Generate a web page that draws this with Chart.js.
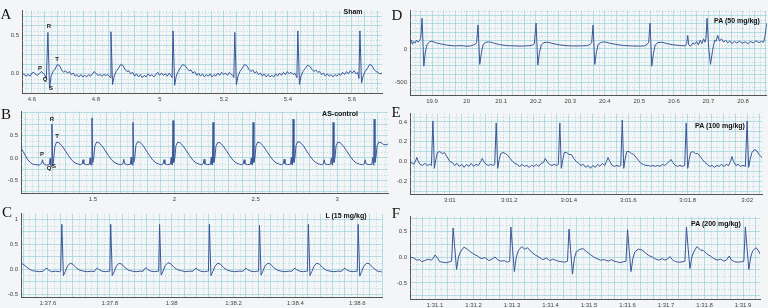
<!DOCTYPE html>
<html>
<head>
<meta charset="utf-8">
<script src="https://cdn.jsdelivr.net/npm/chart.js@4.4.1/dist/chart.umd.min.js"></script>
<style>
html,body{margin:0;padding:0;background:#f4f5f6;}
#page{position:relative;width:768px;height:308px;overflow:hidden;}
#page canvas{position:absolute;}
.letter{position:absolute;font-family:"Liberation Serif","DejaVu Serif",serif;font-size:15px;line-height:15px;color:#111;transform:translate(-50%,-50%);}
.tag{position:absolute;font-family:"Liberation Sans",Arial,sans-serif;font-weight:bold;font-size:7px;line-height:7px;color:#111;white-space:nowrap;transform:translate(-50%,-50%);}
.wave{position:absolute;font-family:"Liberation Sans",Arial,sans-serif;font-weight:bold;font-size:6px;line-height:6px;color:#222;transform:translate(-50%,-50%);}
</style>
</head>
<body>
<div id="page"></div>
<script>

// ---- traces: [time (s), amplitude] ----

const shamTrace = [
[4.569,-0.02],[4.575,0.0],[4.581,-0.03],[4.588,-0.01],[4.594,-0.03],[4.600,0.01],[4.606,0.02],[4.612,-0.01],[4.618,-0.02],[4.624,0.01],[4.630,0.03],[4.636,0.0],[4.641,-0.02],[4.645,-0.06],[4.650,0.54],[4.655,-0.19],[4.660,-0.03],[4.666,0.03],[4.672,0.06],[4.679,0.12],[4.686,0.11],[4.693,0.05],[4.699,0.02],[4.705,0.04],[4.711,0.01],[4.717,0.03],[4.723,-0.01],[4.729,0.01],[4.735,-0.03],[4.741,-0.01],[4.747,-0.04],[4.753,-0.01],[4.759,-0.04],[4.765,-0.02],[4.771,-0.04],[4.777,-0.01],[4.783,-0.03],[4.789,0.0],[4.795,0.03],[4.801,0.0],[4.807,-0.02],[4.813,-0.01],[4.819,-0.03],[4.825,-0.01],[4.831,-0.02],[4.837,-0.01],[4.842,-0.03],[4.845,-0.05],
[4.847,0.55],[4.852,-0.14],[4.857,-0.03],[4.863,0.03],[4.870,0.07],[4.877,0.12],[4.884,0.11],[4.891,0.06],[4.897,0.03],[4.903,0.04],[4.909,0.0],[4.915,0.02],[4.921,-0.03],[4.927,0.0],[4.933,-0.04],[4.939,-0.01],[4.945,-0.05],[4.951,-0.02],[4.957,-0.04],[4.963,0.0],[4.969,-0.03],[4.975,-0.01],[4.981,-0.04],[4.987,-0.01],[4.993,0.02],[4.999,-0.02],[5.005,0.01],[5.011,-0.02],[5.017,0.0],[5.023,-0.03],[5.029,0.01],[5.034,-0.02],[5.038,-0.05],
[5.041,0.56],[5.046,-0.15],[5.051,-0.03],[5.057,0.03],[5.064,0.08],[5.071,0.12],[5.078,0.11],[5.085,0.07],[5.091,0.04],[5.097,0.05],[5.103,0.01],[5.109,0.03],[5.115,-0.02],[5.121,0.01],[5.127,-0.03],[5.133,0.0],[5.139,-0.04],[5.145,-0.01],[5.151,-0.03],[5.157,0.0],[5.163,-0.04],[5.169,-0.01],[5.175,-0.03],[5.181,0.01],[5.187,-0.02],[5.193,0.02],[5.199,-0.01],[5.205,0.01],[5.211,-0.02],[5.217,0.02],[5.223,-0.01],[5.228,-0.02],[5.231,-0.05],
[5.234,0.54],[5.239,-0.14],[5.244,-0.03],[5.250,0.03],[5.257,0.07],[5.264,0.12],[5.271,0.11],[5.278,0.06],[5.284,0.03],[5.290,0.05],[5.296,0.01],[5.302,0.03],[5.308,-0.01],[5.314,0.01],[5.320,-0.03],[5.326,0.0],[5.332,-0.04],[5.338,-0.01],[5.344,-0.04],[5.350,-0.02],[5.356,-0.04],[5.362,0.0],[5.368,-0.03],[5.374,0.01],[5.380,-0.02],[5.386,0.02],[5.392,-0.01],[5.398,0.03],[5.404,0.0],[5.410,0.02],[5.416,-0.01],[5.421,0.01],[5.425,-0.02],[5.428,-0.05],
[5.431,0.56],[5.436,-0.14],[5.441,-0.03],[5.447,0.03],[5.454,0.07],[5.461,0.11],[5.468,0.10],[5.475,0.06],[5.481,0.03],[5.487,0.05],[5.493,0.02],[5.499,0.03],[5.505,-0.01],[5.511,0.01],[5.517,-0.03],[5.523,0.0],[5.529,-0.03],[5.535,-0.01],[5.541,-0.04],[5.547,-0.01],[5.553,-0.03],[5.559,0.0],[5.565,-0.02],[5.571,0.02],[5.577,-0.01],[5.583,0.03],[5.589,0.0],[5.595,0.04],[5.601,0.01],[5.607,0.04],[5.613,0.0],[5.618,0.02],[5.622,-0.06],
[5.625,0.56],[5.630,-0.12],[5.635,-0.03],[5.641,0.03],[5.648,0.07],[5.655,0.12],[5.662,0.11],[5.669,0.06],[5.675,0.03],[5.681,0.02],[5.687,0.0],[5.694,0.01]
];

const pa50Trace = [
[19.836,80],[19.840,130],[19.843,70],[19.847,110],[19.851,90],[19.855,130],[19.859,100],[19.863,120],[19.867,160],
[19.871,457],[19.876,-257],[19.880,-60],[19.885,60],[19.893,110],[19.900,115],[19.912,90],[19.925,75],[19.945,55],[19.965,45],[19.985,50],[20.000,40],[20.012,45],[20.020,60],[20.026,75],[20.029,100],
[20.033,357],[20.038,-230],[20.043,-50],[20.048,70],[20.056,100],[20.066,105],[20.080,85],[20.095,65],[20.115,50],[20.140,45],[20.160,42],[20.180,48],[20.190,55],[20.196,80],
[20.201,385],[20.206,-240],[20.211,-50],[20.216,60],[20.224,95],[20.235,100],[20.250,80],[20.270,60],[20.290,48],[20.310,44],[20.330,45],[20.350,50],[20.358,70],[20.362,95],
[20.366,357],[20.371,-230],[20.376,-40],[20.381,70],[20.390,100],[20.400,105],[20.415,85],[20.435,65],[20.455,50],[20.480,45],[20.500,42],[20.515,45],[20.523,70],[20.527,100],
[20.531,385],[20.536,-257],[20.541,-60],[20.546,60],[20.554,95],[20.565,100],[20.580,80],[20.600,60],[20.620,50],[20.632,45],[20.637,80],[20.640,200],[20.643,60],[20.648,40],[20.655,90],[20.660,70],[20.666,110],[20.671,60],[20.676,130],[20.681,80],[20.686,150],[20.690,100],[20.693,160],
[20.696,457],[20.701,0],[20.706,-230],[20.712,-20],[20.718,130],[20.722,110],[20.727,200],[20.732,120],[20.738,150],[20.744,100],[20.750,130],[20.756,90],[20.762,120],[20.768,80],[20.775,110],[20.782,90],[20.790,115],[20.798,85],[20.806,105],[20.814,80],[20.822,110],[20.830,90],[20.838,120],[20.846,95],[20.854,110],[20.860,100],[20.864,200],[20.869,385]
];

const asControlTrace = [
[1.058,0.22],[1.070,0.15],[1.085,0.05],[1.100,-0.04],[1.115,-0.10],[1.130,-0.14],[1.150,-0.15],[1.170,-0.16],[1.185,-0.12],[1.190,-0.04],[1.196,-0.13],[1.215,-0.16],[1.232,-0.15],[1.237,-0.01],[1.240,-0.15],[1.244,-0.19],
[1.248,0.75],[1.253,-0.17],[1.259,-0.02],[1.266,0.25],[1.276,0.35],[1.290,0.34],[1.310,0.27],[1.330,0.16],[1.350,0.05],[1.370,-0.05],[1.390,-0.11],[1.410,-0.14],[1.425,-0.15],[1.434,-0.13],[1.439,-0.04],[1.444,-0.13],[1.460,-0.15],[1.478,-0.14],[1.483,0.0],[1.487,-0.14],[1.490,-0.16],
[1.494,0.89],[1.499,-0.10],[1.505,0.0],[1.512,0.27],[1.522,0.35],[1.536,0.34],[1.556,0.27],[1.576,0.16],[1.596,0.05],[1.616,-0.05],[1.636,-0.11],[1.656,-0.14],[1.672,-0.15],[1.684,-0.13],[1.690,-0.03],[1.695,-0.13],[1.712,-0.15],[1.730,-0.14],[1.735,0.02],[1.739,-0.14],[1.742,-0.16],
[1.746,0.79],[1.751,-0.10],[1.757,0.0],[1.764,0.28],[1.774,0.36],[1.788,0.35],[1.808,0.28],[1.828,0.16],[1.848,0.05],[1.868,-0.05],[1.888,-0.11],[1.908,-0.14],[1.922,-0.15],[1.932,-0.13],[1.937,-0.04],[1.942,-0.13],[1.958,-0.15],[1.976,-0.14],[1.981,0.01],[1.985,-0.14],[1.988,-0.16],
[1.992,0.83],[1.997,-0.10],[2.003,0.0],[2.010,0.27],[2.020,0.35],[2.034,0.34],[2.054,0.27],[2.074,0.16],[2.094,0.05],[2.114,-0.05],[2.134,-0.11],[2.154,-0.14],[2.168,-0.15],[2.178,-0.13],[2.183,-0.03],[2.188,-0.13],[2.204,-0.15],[2.222,-0.14],[2.227,0.02],[2.231,-0.14],[2.234,-0.16],
[2.238,0.79],[2.243,-0.10],[2.249,0.0],[2.256,0.26],[2.266,0.34],[2.280,0.34],[2.300,0.27],[2.320,0.16],[2.340,0.05],[2.360,-0.05],[2.380,-0.11],[2.400,-0.14],[2.414,-0.15],[2.424,-0.13],[2.429,-0.04],[2.434,-0.13],[2.450,-0.15],[2.468,-0.14],[2.473,0.0],[2.477,-0.14],[2.480,-0.16],
[2.484,0.79],[2.489,-0.10],[2.495,0.0],[2.502,0.27],[2.512,0.35],[2.526,0.34],[2.546,0.27],[2.566,0.16],[2.586,0.05],[2.606,-0.05],[2.626,-0.11],[2.646,-0.14],[2.660,-0.15],[2.670,-0.13],[2.675,-0.03],[2.680,-0.13],[2.696,-0.15],[2.714,-0.14],[2.719,0.01],[2.723,-0.14],[2.726,-0.16],
[2.730,0.86],[2.735,-0.10],[2.741,0.0],[2.748,0.28],[2.758,0.36],[2.772,0.35],[2.792,0.28],[2.812,0.16],[2.832,0.05],[2.852,-0.05],[2.872,-0.11],[2.892,-0.14],[2.906,-0.15],[2.916,-0.13],[2.921,-0.04],[2.926,-0.13],[2.942,-0.15],[2.960,-0.14],[2.965,0.0],[2.969,-0.14],[2.972,-0.16],
[2.976,0.79],[2.981,-0.10],[2.987,0.0],[2.994,0.27],[3.004,0.35],[3.018,0.34],[3.038,0.27],[3.058,0.16],[3.078,0.05],[3.098,-0.05],[3.118,-0.11],[3.138,-0.14],[3.156,-0.15],[3.168,-0.13],[3.173,-0.04],[3.178,-0.13],[3.196,-0.15],[3.214,-0.14],[3.219,0.01],[3.223,-0.14],[3.225,-0.16],
[3.228,0.86],[3.233,-0.10],[3.239,0.02],[3.246,0.27],[3.256,0.35],[3.270,0.34],[3.285,0.30],[3.300,0.29],[3.313,0.31]
];

const pa100Trace = [
[180.866,-0.03],[180.872,-0.01],[180.878,-0.03],[180.884,0.0],[180.889,0.04],[180.894,0.0],[180.900,-0.03],[180.908,-0.04],[180.916,-0.02],[180.924,-0.04],[180.932,-0.03],[180.938,-0.04],
[180.943,0.41],[180.948,-0.07],[180.953,0.02],[180.958,0.09],[180.966,0.10],[180.974,0.08],[180.982,0.09],[180.990,0.05],[181.000,0.0],[181.008,-0.01],[181.016,-0.04],[181.024,-0.02],[181.032,-0.05],[181.040,-0.03],[181.048,-0.06],[181.056,-0.03],[181.064,-0.05],[181.072,-0.02],[181.080,-0.05],[181.088,-0.03],[181.096,-0.04],[181.104,0.0],[181.109,0.03],[181.114,0.0],[181.122,-0.03],[181.130,-0.04],[181.138,-0.03],[181.146,-0.04],[181.151,-0.03],
[181.156,0.39],[181.161,-0.07],[181.166,0.02],[181.171,0.08],[181.179,0.09],[181.187,0.08],[181.195,0.06],[181.203,0.03],[181.211,0.0],[181.219,-0.02],[181.227,-0.03],[181.235,-0.05],[181.243,-0.03],[181.251,-0.05],[181.259,-0.04],[181.267,-0.06],[181.275,-0.04],[181.283,-0.05],[181.291,-0.03],[181.299,-0.05],[181.307,-0.02],[181.315,-0.01],[181.321,0.03],[181.327,0.0],[181.335,-0.03],[181.343,-0.04],[181.351,-0.03],[181.360,-0.04],[181.365,-0.03],
[181.370,0.39],[181.375,-0.07],[181.380,0.02],[181.385,0.09],[181.393,0.09],[181.401,0.07],[181.409,0.07],[181.417,0.03],[181.425,0.0],[181.433,-0.02],[181.441,-0.04],[181.449,-0.03],[181.457,-0.06],[181.465,-0.04],[181.473,-0.07],[181.481,-0.04],[181.489,-0.06],[181.497,-0.03],[181.505,-0.05],[181.513,-0.02],[181.521,-0.04],[181.527,0.0],[181.532,0.04],[181.538,0.0],[181.546,-0.04],[181.554,-0.05],[181.562,-0.04],[181.570,-0.05],[181.575,-0.04],
[181.580,0.42],[181.585,-0.07],[181.590,0.03],[181.595,0.10],[181.603,0.10],[181.611,0.08],[181.619,0.07],[181.627,0.04],[181.635,0.01],[181.643,-0.02],[181.651,-0.03],[181.659,-0.04],[181.667,-0.04],[181.675,-0.05],[181.683,-0.04],[181.691,-0.05],[181.699,-0.04],[181.707,-0.05],[181.715,-0.03],[181.723,-0.04],[181.731,-0.02],[181.738,0.0],[181.744,0.02],[181.750,-0.01],[181.758,-0.04],[181.766,-0.05],[181.774,-0.04],[181.782,-0.05],[181.790,-0.04],
[181.795,0.39],[181.800,-0.07],[181.805,0.02],[181.810,0.09],[181.818,0.10],[181.826,0.08],[181.834,0.08],[181.842,0.05],[181.850,0.02],[181.858,-0.01],[181.866,-0.03],[181.874,-0.05],[181.882,-0.04],[181.890,-0.06],[181.898,-0.04],[181.906,-0.05],[181.914,-0.03],[181.922,-0.05],[181.930,-0.03],[181.938,-0.04],[181.944,0.0],[181.949,0.05],[181.954,0.0],[181.962,-0.04],[181.970,-0.03],[181.978,-0.05],[181.986,-0.04],[181.994,-0.05],
[182.000,0.41],[182.005,-0.06],[182.010,0.02],[182.016,0.09],[182.024,0.12],[182.032,0.11],[182.040,0.07],[182.050,0.04]
];

const l15Trace = [
[97.513,0.12],[97.520,0.10],[97.530,0.05],[97.540,0.0],[97.550,-0.03],[97.560,-0.04],[97.572,-0.05],[97.585,-0.04],[97.592,0.01],[97.597,0.02],[97.602,-0.02],[97.612,-0.05],[97.625,-0.04],[97.638,-0.05],[97.641,-0.04],
[97.645,0.90],[97.650,-0.13],[97.656,-0.05],[97.663,0.06],[97.672,0.12],[97.681,0.10],[97.691,0.03],[97.703,-0.02],[97.715,-0.04],[97.727,-0.05],[97.740,-0.04],[97.750,-0.05],[97.755,0.0],[97.760,0.02],[97.765,-0.01],[97.775,-0.04],[97.787,-0.05],[97.797,-0.04],[97.800,-0.04],
[97.803,0.90],[97.808,-0.13],[97.814,-0.05],[97.821,0.06],[97.830,0.12],[97.839,0.10],[97.849,0.03],[97.861,-0.02],[97.873,-0.04],[97.885,-0.05],[97.898,-0.04],[97.908,-0.04],[97.913,0.01],[97.918,0.03],[97.923,-0.01],[97.933,-0.04],[97.945,-0.05],[97.955,-0.04],[97.958,-0.04],
[97.961,0.90],[97.966,-0.12],[97.972,-0.04],[97.979,0.07],[97.988,0.13],[97.997,0.11],[98.007,0.04],[98.019,-0.01],[98.031,-0.03],[98.043,-0.05],[98.056,-0.04],[98.069,-0.04],[98.074,0.0],[98.079,0.02],[98.084,-0.01],[98.094,-0.04],[98.106,-0.05],[98.116,-0.04],[98.119,-0.04],
[98.122,0.90],[98.127,-0.13],[98.133,-0.05],[98.140,0.06],[98.149,0.12],[98.158,0.10],[98.168,0.03],[98.180,-0.02],[98.192,-0.04],[98.204,-0.05],[98.217,-0.04],[98.231,-0.04],[98.236,0.0],[98.241,0.02],[98.246,-0.01],[98.256,-0.04],[98.268,-0.05],[98.278,-0.04],[98.281,-0.04],
[98.284,0.88],[98.289,-0.12],[98.295,-0.04],[98.302,0.07],[98.311,0.12],[98.320,0.10],[98.330,0.03],[98.342,-0.02],[98.354,-0.04],[98.366,-0.05],[98.379,-0.04],[98.389,-0.04],[98.394,0.0],[98.399,0.02],[98.404,-0.01],[98.414,-0.04],[98.426,-0.05],[98.436,-0.04],[98.439,-0.04],
[98.442,0.90],[98.447,-0.13],[98.453,-0.05],[98.460,0.06],[98.469,0.12],[98.478,0.10],[98.488,0.03],[98.500,-0.02],[98.512,-0.04],[98.524,-0.05],[98.537,-0.04],[98.550,-0.04],[98.555,0.0],[98.560,0.02],[98.565,-0.01],[98.575,-0.04],[98.587,-0.05],[98.597,-0.04],[98.600,-0.04],
[98.603,0.90],[98.608,-0.14],[98.614,-0.05],[98.621,0.06],[98.630,0.12],[98.639,0.11],[98.649,0.04],[98.661,-0.02],[98.668,-0.05],[98.674,-0.04],[98.680,-0.06]
];

const pa200Trace = [
[91.035,0.0],[91.045,-0.02],[91.052,-0.06],[91.060,-0.05],[91.065,-0.09],[91.073,-0.07],[91.082,-0.04],[91.090,-0.06],[91.095,-0.03],[91.100,0.04],[91.105,0.0],[91.112,-0.09],[91.120,-0.10],[91.130,-0.11],[91.138,-0.09],[91.143,-0.08],
[91.147,0.56],[91.151,0.20],[91.156,-0.24],[91.161,0.0],[91.166,0.10],[91.175,0.19],[91.184,0.15],[91.192,0.10],[91.200,0.06],[91.210,0.02],[91.220,-0.03],[91.230,-0.01],[91.240,-0.07],[91.248,-0.04],[91.256,0.0],[91.262,-0.05],[91.270,-0.08],[91.280,-0.07],[91.288,-0.10],[91.294,-0.08],
[91.297,0.58],[91.301,0.20],[91.306,-0.28],[91.311,0.0],[91.316,0.12],[91.325,0.20],[91.333,0.15],[91.340,0.18],[91.350,0.10],[91.360,0.04],[91.370,0.0],[91.380,-0.05],[91.390,-0.02],[91.398,-0.07],[91.406,-0.04],[91.413,-0.06],[91.420,-0.08],[91.428,-0.09],[91.436,-0.10],[91.444,-0.08],
[91.448,0.54],[91.452,0.15],[91.457,-0.33],[91.462,-0.02],[91.467,0.10],[91.476,0.15],[91.485,0.16],[91.494,0.10],[91.503,0.05],[91.512,0.0],[91.520,-0.03],[91.530,-0.06],[91.540,-0.05],[91.550,-0.08],[91.558,-0.05],[91.565,-0.08],[91.572,-0.09],[91.580,-0.11],[91.590,-0.09],[91.596,-0.08],
[91.600,0.53],[91.604,0.15],[91.609,-0.28],[91.614,-0.02],[91.619,0.10],[91.628,0.15],[91.637,0.14],[91.646,0.08],[91.655,0.03],[91.664,0.0],[91.673,-0.04],[91.682,-0.06],[91.690,-0.03],[91.697,-0.06],[91.704,-0.04],[91.710,0.01],[91.716,-0.05],[91.725,-0.09],[91.735,-0.10],[91.744,-0.09],[91.749,-0.08],
[91.753,0.58],[91.757,0.20],[91.762,-0.22],[91.767,0.0],[91.772,0.10],[91.780,0.20],[91.789,0.14],[91.798,0.12],[91.806,0.06],[91.815,0.02],[91.824,-0.03],[91.833,-0.06],[91.842,-0.04],[91.850,-0.08],[91.858,-0.05],[91.864,0.02],[91.870,-0.06],[91.878,-0.09],[91.887,-0.10],[91.896,-0.09],[91.902,-0.08],
[91.906,0.58],[91.910,0.20],[91.915,-0.24],[91.920,0.0],[91.925,0.12],[91.934,0.18],[91.940,0.12],[91.944,0.06]
];

// tick labels
const shamXTicks = [4.6,4.8,5,5.2,5.4,5.6];
const shamYTicks = [0,0.5];
const pa50XTicks = [19.9,20,20.1,20.2,20.3,20.4,20.5,20.6,20.7,20.8];
const pa50YTicks = [0,-500];
const asXTicks = [1.5,2,2.5,3];
const asYTicks = [-0.5,0,0.5];
const pa100XTicks = [181,181.2,181.4,181.6,181.8,182];
const pa100YTicks = [-0.2,0,0.2,0.4];
const l15XTicks = [97.6,97.8,98,98.2,98.4,98.6];
const l15YTicks = [-0.5,0,0.5,1];
const pa200XTicks = [91.1,91.2,91.3,91.4,91.5,91.6,91.7,91.8,91.9];
const pa200YTicks = [-0.5,0,0.5];

const groupNames = ["Sham","PA (50 mg/kg)","AS-control","PA (100 mg/kg)","L (15 mg/kg)","PA (200 mg/kg)"];
const panelLetters = ["A","D","B","E","C","F"];

// ---- layout ----
const AXIS_W = 26, AXIS_H = 14, PAD_T = 3, PAD_R = 2;

function plain(v){ return String(+v.toFixed(1)); }
function clock(v){
    let m = Math.floor(v/60 + 1e-9);
    let s = +(v - m*60).toFixed(1);
    return m + ":" + (s < 10 ? "0" + s : "" + s);
}
function fixed1(v){ return v.toFixed(1); }

const panels = [
 {trace:shamTrace, xt:shamXTicks, yt:shamYTicks, area:[22,7,382,93], x:[4.569,5.694], y:[-0.25,0.825], xg:0.04, yg:0.125, xf:plain, yf:fixed1,
  letter:[6,14], name:[353,11]},
 {trace:pa50Trace, xt:pa50XTicks, yt:pa50YTicks, area:[410,7,767,95], x:[19.836,20.869], y:[-686,571], xg:0.1/3, yg:125, xf:plain, yf:v=>String(v),
  letter:[397,15], name:[737,20]},
 {trace:asControlTrace, xt:asXTicks, yt:asYTicks, area:[21,108,388,193], x:[1.058,3.313], y:[-0.78,1.03], xg:0.5/6, yg:0.25, xf:plain, yf:fixed1,
  letter:[6,114], name:[340,113]},
 {trace:pa100Trace, xt:pa100XTicks, yt:pa100YTicks, area:[410,110,762,194], x:[180.866,182.05], y:[-0.33,0.485], xg:0.04, yg:0.1, xf:clock, yf:fixed1,
  letter:[396,112], name:[720,125]},
 {trace:l15Trace, xt:l15XTicks, yt:l15YTicks, area:[21,210,383,297], x:[97.513,98.68], y:[-0.558,1.115], xg:0.04, yg:0.25, xf:clock, yf:v=>(v===1?"1":v.toFixed(1)),
  letter:[7,212], name:[346,215]},
 {trace:pa200Trace, xt:pa200XTicks, yt:pa200YTicks, area:[410,213,760,299], x:[91.035,91.944], y:[-0.81,0.78], xg:0.1/3, yg:0.25, xf:clock, yf:fixed1,
  letter:[396,213], name:[716,223]}
];

const waveMarks = [
 ["R",49,26],["P",40,68],["T",57,59],["Q",45,79],["S",51,88],
 ["R",52,119],["T",57,136],["P",42,154],["Q",49,168],["S",54,166]
];

const page = document.getElementById("page");

function gridValues(min, max, anchor, step){
    let out = [];
    let v = anchor;
    while(v - step >= min - 1e-9) v -= step;
    for(; v <= max + 1e-9; v += step){
        out.push(+v.toFixed(6));
    }
    return out;
}

function isLabel(list, v){
    return list.some(t => Math.abs(t - v) < 1e-6);
}

function addText(cls, text, x, y){
    let d = document.createElement("div");
    d.className = cls;
    d.textContent = text;
    d.style.left = x + "px";
    d.style.top = y + "px";
    page.appendChild(d);
}

const gridSolid = "rgba(130,200,212,0.55)";
const gridDot = "rgba(120,190,205,0.5)";

// dotted half-step lines between the solid grid lines
const dottedGrid = {
    id: "dottedGrid",
    beforeDatasetsDraw(chart, args, opts){
        const ctx = chart.ctx, a = chart.chartArea;
        const sx = chart.scales.x, sy = chart.scales.y;
        ctx.save();
        ctx.strokeStyle = gridDot;
        ctx.lineWidth = 1;
        ctx.setLineDash([1, 2]);
        opts.xs.forEach(v => {
            let px = Math.round(sx.getPixelForValue(v)) + 0.5;
            ctx.beginPath(); ctx.moveTo(px, a.top); ctx.lineTo(px, a.bottom); ctx.stroke();
        });
        opts.ys.forEach(v => {
            let py = Math.round(sy.getPixelForValue(v)) + 0.5;
            ctx.beginPath(); ctx.moveTo(a.left, py); ctx.lineTo(a.right, py); ctx.stroke();
        });
        ctx.restore();
    }
};

function mids(vals, lo, hi, step){
    let out = vals.map(v => v + step/2).filter(v => v > lo && v < hi);
    if(vals.length && vals[0] - step/2 > lo) out.unshift(vals[0] - step/2);
    return out;
}

panels.forEach((p, i) => {

    let W = p.area[2] - p.area[0] + AXIS_W + PAD_R;
    let H = p.area[3] - p.area[1] + PAD_T + AXIS_H;

    let cv = document.createElement("canvas");
    cv.width = W;
    cv.height = H;
    cv.style.width = W + "px";
    cv.style.height = H + "px";
    cv.style.left = (p.area[0] - AXIS_W) + "px";
    cv.style.top = (p.area[1] - PAD_T) + "px";
    page.appendChild(cv);

    let xGrid = gridValues(p.x[0], p.x[1], p.xt[0], p.xg);
    let yGrid = gridValues(p.y[0], p.y[1], 0, p.yg);
    let xVals = xGrid.concat(p.xt.filter(v => !isLabel(xGrid, v))).sort((a,b) => a-b);
    let yVals = yGrid.concat(p.yt.filter(v => !isLabel(yGrid, v))).sort((a,b) => a-b);

    new Chart(cv, {
        type: "line",
        data: {
            datasets: [{
                data: p.trace.map(pt => ({x: pt[0], y: pt[1]})),
                borderColor: "#3a5796",
                borderWidth: 1,
                pointRadius: 0,
                tension: 0,
                fill: false
            }]
        },
        plugins: [dottedGrid],
        options: {
            responsive: false,
            maintainAspectRatio: false,
            devicePixelRatio: 1,
            animation: false,
            events: [],
            layout: {autoPadding: false, padding: {top: PAD_T, right: PAD_R, left: 0, bottom: 0}},
            plugins: {
                legend: {display: false},
                tooltip: {enabled: false},
                dottedGrid: {xs: mids(xGrid, p.x[0], p.x[1], p.xg), ys: mids(yGrid, p.y[0], p.y[1], p.yg)}
            },
            scales: {
                x: {
                    type: "linear",
                    min: p.x[0],
                    max: p.x[1],
                    afterFit: s => { s.height = AXIS_H; },
                    afterBuildTicks: s => { s.ticks = xVals.map(v => ({value: v})); },
                    grid: {drawTicks: false, color: gridSolid},
                    border: {display: true, color: "#555", width: 1},
                    ticks: {
                        autoSkip: false,
                        maxRotation: 0,
                        padding: 3,
                        color: "#444",
                        font: {size: 6, family: "Liberation Sans"},
                        callback: v => isLabel(p.xt, v) ? p.xf(v) : ""
                    }
                },
                y: {
                    type: "linear",
                    min: p.y[0],
                    max: p.y[1],
                    afterFit: s => { s.width = AXIS_W; },
                    afterBuildTicks: s => { s.ticks = yVals.map(v => ({value: v})); },
                    grid: {drawTicks: false, color: gridSolid},
                    border: {display: true, color: "#555", width: 1},
                    ticks: {
                        autoSkip: false,
                        padding: 3,
                        color: "#444",
                        font: {size: 6, family: "Liberation Sans"},
                        callback: v => isLabel(p.yt, v) ? p.yf(v) : ""
                    }
                }
            }
        }
    });

    addText("letter", panelLetters[i], p.letter[0], p.letter[1]);
    addText("tag", groupNames[i], p.name[0], p.name[1]);
});

waveMarks.forEach(m => addText("wave", m[0], m[1], m[2]));

</script>
</body>
</html>
